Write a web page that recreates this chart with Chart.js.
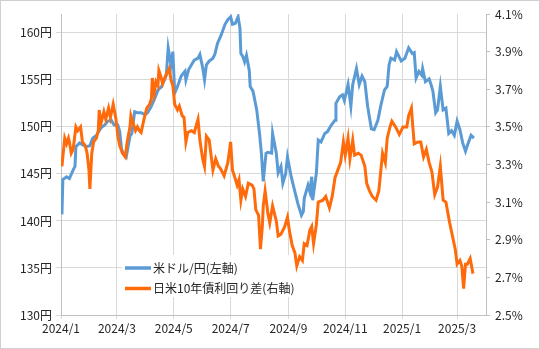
<!DOCTYPE html>
<html>
<head>
<meta charset="utf-8">
<script src="https://cdn.jsdelivr.net/npm/chart.js@4"></script>
<style>
  body { margin: 0; background: #fff; }
  #wrap { width: 540px; height: 349px; position: relative; }
</style>
</head>
<body>
<div id="wrap"><canvas id="myChart"></canvas></div>
<script>
// ドル円 (left axis)
const usdDates = [
  "2024-01-02","2024-01-03","2024-01-07","2024-01-10","2024-01-14","2024-01-16","2024-01-17","2024-01-21",
  "2024-01-24","2024-01-28","2024-02-01","2024-02-04","2024-02-08","2024-02-13","2024-02-17","2024-02-20",
  "2024-02-24","2024-02-27","2024-03-02","2024-03-04","2024-03-06","2024-03-09","2024-03-11","2024-03-15",
  "2024-03-17","2024-03-20","2024-03-23","2024-03-27","2024-03-31","2024-04-03","2024-04-07","2024-04-10",
  "2024-04-14","2024-04-18","2024-04-21","2024-04-23","2024-04-25","2024-04-28","2024-04-30","2024-05-02",
  "2024-05-05","2024-05-09","2024-05-13","2024-05-14","2024-05-17","2024-05-20","2024-05-23","2024-05-27",
  "2024-05-29","2024-06-01","2024-06-03","2024-06-05","2024-06-08","2024-06-12","2024-06-14","2024-06-17",
  "2024-06-21","2024-06-25","2024-06-28","2024-07-01","2024-07-03","2024-07-06","2024-07-09","2024-07-11",
  "2024-07-12","2024-07-14","2024-07-16","2024-07-18","2024-07-21","2024-07-22","2024-07-25","2024-07-29",
  "2024-08-01","2024-08-03","2024-08-05","2024-08-08","2024-08-10","2024-08-14","2024-08-15","2024-08-19",
  "2024-08-21","2024-08-24","2024-08-26","2024-08-29","2024-08-31","2024-09-04","2024-09-08","2024-09-11",
  "2024-09-15","2024-09-17","2024-09-18","2024-09-22","2024-09-24","2024-09-26","2024-09-27","2024-10-01",
  "2024-10-03","2024-10-06","2024-10-10","2024-10-13","2024-10-17","2024-10-21","2024-10-22","2024-10-26",
  "2024-10-29","2024-10-31","2024-11-04","2024-11-07","2024-11-09","2024-11-13","2024-11-16","2024-11-19",
  "2024-11-22","2024-11-25","2024-11-29","2024-12-02","2024-12-06","2024-12-09","2024-12-13","2024-12-16",
  "2024-12-18","2024-12-20","2024-12-24","2024-12-26","2024-12-31","2025-01-04","2025-01-08","2025-01-12",
  "2025-01-14","2025-01-16","2025-01-19","2025-01-22","2025-01-23","2025-01-26","2025-01-30","2025-02-01",
  "2025-02-03","2025-02-06","2025-02-08","2025-02-11","2025-02-14","2025-02-17","2025-02-20","2025-02-23",
  "2025-02-26","2025-03-01","2025-03-04","2025-03-07","2025-03-10","2025-03-13","2025-03-16","2025-03-19"
];
const usdJpy = [
  140.7,144.4,144.7,144.5,145.4,145.8,147.9,148.3,
  148.1,147.9,148.0,148.8,149.1,149.9,150.2,150.6,
  150.7,150.2,150.2,149.5,147.6,147.0,146.8,149.0,
  149.3,151.6,151.5,151.5,151.3,151.5,152.2,152.9,
  153.9,154.3,155.0,155.5,158.4,156.6,158.0,153.6,
  154.3,155.4,155.9,155.0,156.1,156.6,157.1,157.3,
  157.7,156.3,155.0,156.6,157.0,157.3,157.7,158.9,
  159.8,160.9,161.4,161.7,160.9,161.0,161.7,160.5,
  157.8,157.5,156.9,157.6,156.0,154.3,153.8,151.8,
  149.3,147.2,144.2,147.2,147.3,147.2,149.3,147.2,
  145.1,145.8,144.0,145.0,146.8,144.7,143.1,141.9,
  140.6,141.0,142.4,143.8,143.1,144.7,142.2,145.1,
  148.6,148.4,149.3,149.5,150.2,150.7,152.5,153.2,
  153.4,152.8,154.5,152.2,154.5,156.2,154.5,155.4,
  154.8,152.2,149.8,149.7,150.7,152.2,153.9,154.3,
  156.6,157.3,157.1,158.0,157.0,157.3,158.4,157.8,
  157.9,155.2,155.9,155.5,156.2,154.8,155.1,154.5,
  153.8,151.5,151.8,154.3,151.8,152.0,149.3,149.6,
  149.1,150.6,149.7,148.3,147.4,148.3,149.1,148.8
];

// 日米10年債利回り差 (right axis, %)
const spreadDates = [
  "2024-01-02","2024-01-03","2024-01-05","2024-01-07","2024-01-09","2024-01-10","2024-01-12","2024-01-14",
  "2024-01-17","2024-01-19","2024-01-22","2024-01-24","2024-01-27","2024-01-29","2024-01-31","2024-02-01",
  "2024-02-03","2024-02-05","2024-02-08","2024-02-10","2024-02-11","2024-02-13","2024-02-16","2024-02-18",
  "2024-02-21","2024-02-23","2024-02-26","2024-02-29","2024-03-02","2024-03-04","2024-03-07","2024-03-10",
  "2024-03-12","2024-03-15","2024-03-16","2024-03-19","2024-03-21","2024-03-23","2024-03-25","2024-03-27",
  "2024-03-30","2024-04-02","2024-04-05","2024-04-07","2024-04-08","2024-04-10","2024-04-12","2024-04-14",
  "2024-04-15","2024-04-17","2024-04-19","2024-04-22","2024-04-26","2024-04-28","2024-04-30","2024-05-02",
  "2024-05-05","2024-05-07","2024-05-10","2024-05-12","2024-05-14","2024-05-16","2024-05-20","2024-05-23",
  "2024-05-27","2024-05-29","2024-06-01","2024-06-03","2024-06-05","2024-06-08","2024-06-10","2024-06-12",
  "2024-06-15","2024-06-18","2024-06-20","2024-06-24","2024-06-28","2024-07-01","2024-07-03","2024-07-05",
  "2024-07-08","2024-07-10","2024-07-12","2024-07-14","2024-07-17","2024-07-20","2024-07-24","2024-07-26",
  "2024-07-28","2024-07-31","2024-08-02","2024-08-04","2024-08-05","2024-08-07","2024-08-10","2024-08-12",
  "2024-08-15","2024-08-19","2024-08-21","2024-08-24","2024-08-28","2024-08-31","2024-09-02","2024-09-05",
  "2024-09-08","2024-09-10","2024-09-13","2024-09-16","2024-09-18","2024-09-21","2024-09-24","2024-09-26",
  "2024-09-28","2024-10-01","2024-10-03","2024-10-08","2024-10-11","2024-10-15","2024-10-18","2024-10-21",
  "2024-10-24","2024-10-27","2024-10-30","2024-11-01","2024-11-04","2024-11-06","2024-11-09","2024-11-11",
  "2024-11-15","2024-11-18","2024-11-22","2024-11-24","2024-11-27","2024-11-30","2024-12-04","2024-12-07",
  "2024-12-11","2024-12-14","2024-12-16","2024-12-19","2024-12-21","2024-12-25","2024-12-29","2025-01-02",
  "2025-01-06","2025-01-08","2025-01-11","2025-01-12","2025-01-14","2025-01-18","2025-01-21","2025-01-24",
  "2025-01-27","2025-01-30","2025-02-02","2025-02-05","2025-02-08","2025-02-11","2025-02-14","2025-02-17",
  "2025-02-21","2025-02-24","2025-02-27","2025-03-01","2025-03-04","2025-03-06","2025-03-08","2025-03-10",
  "2025-03-12","2025-03-15","2025-03-18"
];
const spread = [
  3.29,3.34,3.44,3.41,3.44,3.42,3.36,3.38,
  3.50,3.48,3.50,3.42,3.40,3.36,3.27,3.17,
  3.36,3.42,3.44,3.48,3.59,3.52,3.58,3.54,
  3.60,3.55,3.62,3.54,3.45,3.40,3.36,3.34,
  3.42,3.50,3.56,3.51,3.48,3.50,3.48,3.47,
  3.54,3.60,3.62,3.65,3.76,3.68,3.74,3.72,
  3.80,3.77,3.73,3.77,3.81,3.75,3.72,3.62,
  3.59,3.61,3.56,3.55,3.42,3.47,3.48,3.47,
  3.54,3.43,3.33,3.29,3.45,3.43,3.35,3.27,
  3.33,3.29,3.28,3.24,3.31,3.42,3.27,3.24,
  3.19,3.22,3.11,3.17,3.13,3.20,3.19,3.17,
  3.06,3.03,2.85,2.97,3.08,3.16,3.04,2.99,
  3.08,3.00,2.92,2.93,2.97,3.02,2.95,2.87,
  2.83,2.76,2.81,2.79,2.88,2.87,2.95,2.97,
  2.88,2.98,3.10,3.11,3.13,3.07,3.13,3.23,
  3.27,3.31,3.42,3.35,3.44,3.33,3.43,3.35,
  3.36,3.35,3.29,3.20,3.16,3.13,3.11,3.16,
  3.36,3.31,3.44,3.50,3.53,3.50,3.46,3.50,
  3.50,3.56,3.60,3.53,3.41,3.42,3.42,3.34,
  3.38,3.31,3.26,3.14,3.18,3.29,3.11,3.10,
  2.99,2.92,2.85,2.77,2.79,2.76,2.64,2.77,
  2.77,2.80,2.72
];

const xTickDates = ["2024-01-01","2024-03-01","2024-05-01","2024-07-01","2024-09-01","2024-11-01","2025-01-01","2025-03-01"];
const xTickLabels = ["2024/1","2024/3","2024/5","2024/7","2024/9","2024/11","2025/1","2025/3"];
const seriesNames = ["米ドル/円(左軸)", "日米10年債利回り差(右軸)"];

const DAY0 = Date.UTC(2024, 0, 1);
function dayOf(s) {
  const p = s.split("-").map(Number);
  return (Date.UTC(p[0], p[1] - 1, p[2]) - DAY0) / 86400000;
}
const xTicks = xTickDates.map(dayOf);

const blue = "#5B9BD5";
const orange = "#FF6A0A";
const gridColor = "#D9D9D9";
const axisColor = "#BFBFBF";

Chart.defaults.font.family = "'Noto Sans CJK JP', 'Noto Sans', sans-serif";
Chart.defaults.font.size = 12;
Chart.defaults.color = "#262626";

// legend sits inside the plot: white patch over the grid, lines still drawn on top
const innerLegend = {
  id: "innerLegend",
  beforeDatasetsDraw(chart) {
    const c = chart.ctx;
    const a = chart.chartArea;
    const x0 = a.left + 61, y0 = a.bottom - 60;
    c.save();
    c.fillStyle = "#fff";
    c.fillRect(x0, y0, 177, 42);
    const cols = [blue, orange];
    seriesNames.forEach((name, i) => {
      const y = y0 + 13 + i * 20.5;
      c.strokeStyle = cols[i];
      c.lineWidth = 3.5;
      c.beginPath();
      c.moveTo(x0 + 3, y);
      c.lineTo(x0 + 29, y);
      c.stroke();
      c.fillStyle = "#262626";
      c.font = "12px 'Noto Sans CJK JP'";
      c.textBaseline = "middle";
      c.fillText(name, x0 + 31, y);
    });
    c.restore();
  },
  afterDraw(chart) {
    const c = chart.ctx;
    c.save();
    c.strokeStyle = "#D0D0D0";
    c.lineWidth = 1;
    c.strokeRect(0.5, 0.5, chart.width - 1, chart.height - 1);
    c.restore();
  }
};

const data = {
  datasets: [
    {
      label: seriesNames[0],
      data: usdDates.map((d, i) => ({ x: dayOf(d), y: usdJpy[i] })),
      borderColor: blue,
      yAxisID: "y",
      order: 1,
    },
    {
      label: seriesNames[1],
      data: spreadDates.map((d, i) => ({ x: dayOf(d), y: spread[i] })),
      borderColor: orange,
      yAxisID: "y1",
      order: 0,
    },
  ],
};

const config = {
  type: "line",
  data: data,
  options: {
    responsive: true,
    maintainAspectRatio: false,
    animation: false,
    layout: { padding: { top: 14, right: 0, left: 0, bottom: 0 } },
    elements: {
      line: { borderWidth: 3, tension: 0 },
      point: { radius: 0 },
    },
    plugins: { legend: { display: false }, tooltip: { enabled: false } },
    scales: {
      x: {
        type: "linear",
        min: 0,
        max: dayOf("2025-04-01"),
        afterBuildTicks: (scale) => {
          scale.ticks = xTicks.map((v) => ({ value: v }));
        },
        afterFit: (scale) => { scale.height = 34; },
        ticks: {
          autoSkip: false,
          maxRotation: 0,
          padding: 2,
          callback: (v) => xTickLabels[xTicks.indexOf(v)],
        },
        grid: { color: gridColor, tickLength: 4 },
        border: { color: axisColor },
      },
      y: {
        position: "left",
        min: 130,
        max: 162,
        afterFit: (scale) => { scale.width = 61; },
        ticks: {
          stepSize: 5,
          includeBounds: false,
          padding: 4,
          callback: (v) => v + "円",
        },
        grid: { color: gridColor, tickLength: 5 },
        border: { color: axisColor },
      },
      y1: {
        position: "right",
        min: 2.5,
        max: 4.1,
        afterFit: (scale) => { scale.width = 54; },
        ticks: {
          stepSize: 0.2,
          padding: 5,
          callback: (v) => v.toFixed(1) + "%",
        },
        grid: { drawOnChartArea: false, color: axisColor, tickLength: 4 },
        border: { color: axisColor },
      },
    },
  },
  plugins: [innerLegend],
};

const myChart = new Chart(document.querySelector("#myChart").getContext("2d"), config);
</script>
</body>
</html>
